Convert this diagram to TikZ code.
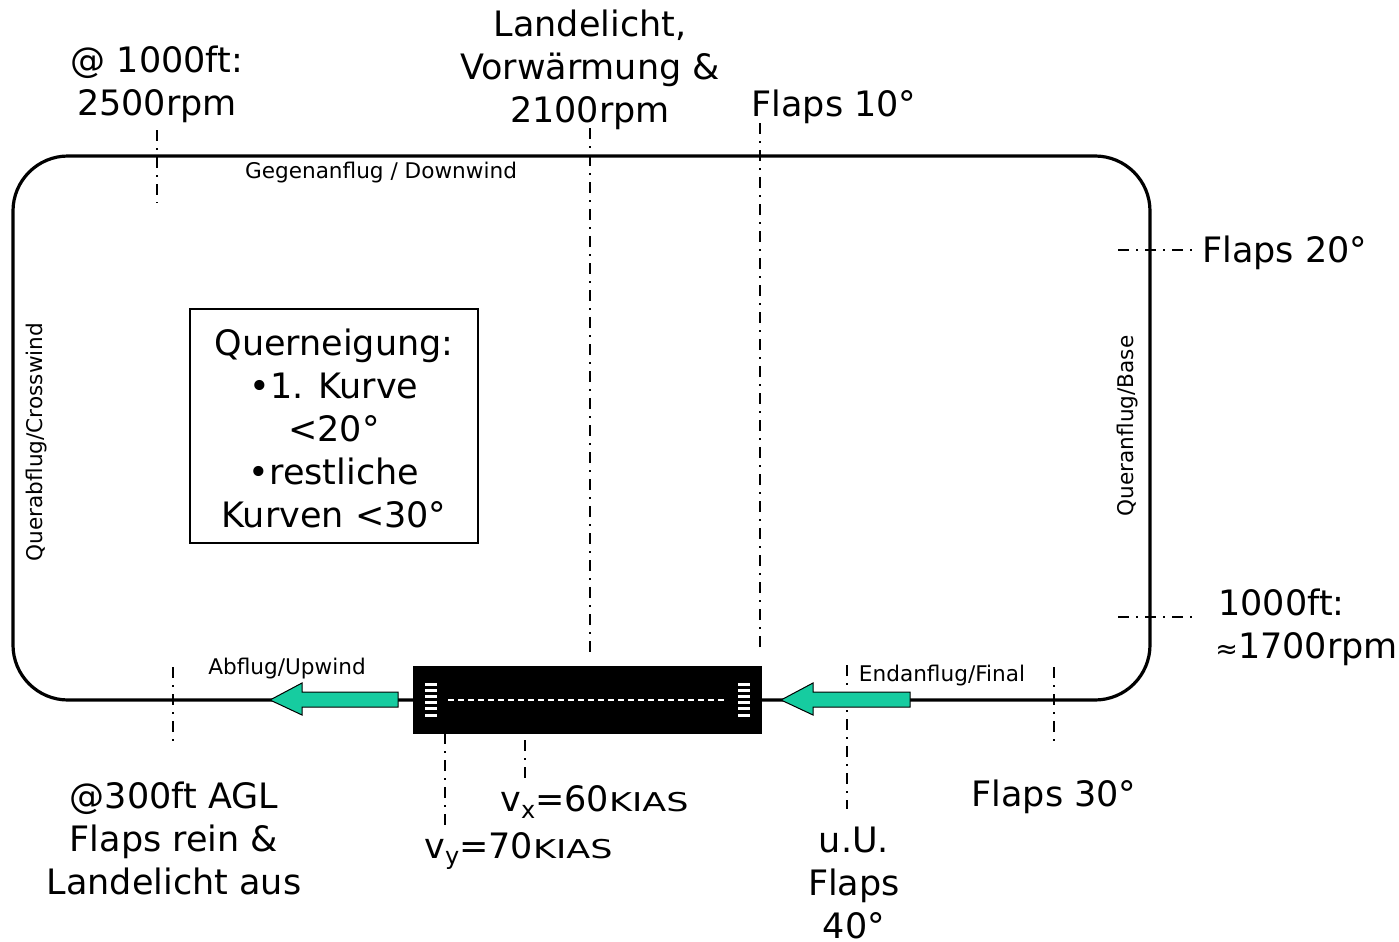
\documentclass[tikz,border=0pt]{standalone}
\usepackage{fontspec}
\setmainfont{DejaVu Sans}
\usetikzlibrary{calc}
\definecolor{arrowteal}{RGB}{22,204,160}
\tikzset{
  big/.style={font=\fontsize{17.5}{21.5}\selectfont, align=center, inner sep=0pt},
  small/.style={font=\fontsize{10.8}{13}\selectfont, inner sep=0pt},
  marker/.style={line width=1pt, dash pattern=on 5.5pt off 3.5pt on 1pt off 3.5pt},
  circuit/.style={line width=1.6pt},
  bigarrow/.style={fill=arrowteal, draw=black, line width=0.5pt},
}
\newcommand{\kias}{\scalebox{1.0}[0.74]{KIAS}}
\newcommand{\sbs}[1]{\raisebox{-0.35ex}{\fontsize{12}{12}\selectfont #1}}
\begin{document}
\begin{tikzpicture}[x=0.5pt,y=-0.5pt]
\useasboundingbox (0,0) rectangle (1399,942);
% circuit
\draw[circuit, rounded corners=27.5pt] (414,700) -- (13,700) -- (13,156) -- (1150,156) -- (1150,700) -- (761,700);
% runway
\node[fill=black, draw=black, minimum width=174pt, minimum height=33.5pt, inner sep=0pt] (rwy) at (587.5,699.5) {};
\draw[white, line width=1pt, dash pattern=on 3pt off 2pt] (448,700) -- (726,700);
\foreach \yy in {0,1,2,3,4,5}{
  \fill[white] (425,{682.5+\yy*6.2}) rectangle (437,{685.5+\yy*6.2});
  \fill[white] (738,{682.5+\yy*6.2}) rectangle (750,{685.5+\yy*6.2});
}
% markers
\coordinate (m1a) at (157,130); \coordinate (m1b) at (157,203);
\coordinate (m2a) at (590,128); \coordinate (m2b) at (590,652);
\coordinate (m3a) at (760,123); \coordinate (m3b) at (760,652);
\coordinate (m4a) at (1118,250); \coordinate (m4b) at (1195,250);
\coordinate (m5a) at (1118,617); \coordinate (m5b) at (1195,617);
\coordinate (m6a) at (173,667); \coordinate (m6b) at (173,746);
\coordinate (m7a) at (445,733); \coordinate (m7b) at (445,827);
\coordinate (m8a) at (525,740); \coordinate (m8b) at (525,778);
\coordinate (m9a) at (847,665); \coordinate (m9b) at (847,809);
\coordinate (m10a) at (1054,667); \coordinate (m10b) at (1054,746);
\foreach \i in {1,...,10}{ \draw[marker] (m\i a) -- (m\i b); }
% arrows
\draw[bigarrow] (398,692) -- (302,692) -- (302,683) -- (270,700) -- (302,715) -- (302,707) -- (398,707) -- cycle;
\draw[bigarrow] (910,692) -- (813,692) -- (813,683) -- (781,700) -- (813,715) -- (813,707) -- (910,707) -- cycle;
% labels
\node[big] (t1) at (157,84) {@ 1000ft:\\2500rpm};
\node[big] (t2) at (590,70) {Landelicht,\\Vorwärmung \&\\2100rpm};
\node[big] (t3) at (834,107) {Flaps 10°};
\node[small] (t4) at (381,173) {Gegenanflug / Downwind};
\node[big, anchor=west] (t5) at (1202,253) {Flaps 20°};
\node[big, align=left, anchor=west] (t6) at (1215,627) {\hspace*{1.5pt}1000ft:\\{\fontsize{13.5}{13.5}\selectfont ≈}1700rpm};
\node[small, rotate=90] (t7) at (37,442) {Querabflug/Crosswind};
\node[small, rotate=90] (t8) at (1128,426) {Queranflug/Base};
\node[draw=black, line width=0.8pt, minimum width=144pt, minimum height=117pt, inner sep=0pt] (box) at (334,426) {};
\node[big] (t9) at (334,428) {Querneigung:\\•1. Kurve\\<20°\\•restliche\\Kurven <30°};
\node[small] (t10) at (287,669) {Abflug/Upwind};
\node[small] (t11) at (942,676) {Endanflug/Final};
\node[big] (t12) at (174,838) {@300ft AGL\\Flaps rein \&\\Landelicht aus};
\node[big, anchor=west] (t13) at (500,802) {v\sbs{x}=60\kias};
\node[big, anchor=west] (t14) at (424,851) {v\sbs{y}=70\kias};
\node[big] (t15) at (1054,797) {Flaps 30°};
\node[big] (t16) at (854,883) {u.U.\\Flaps\\40°};
\end{tikzpicture}
\end{document}
